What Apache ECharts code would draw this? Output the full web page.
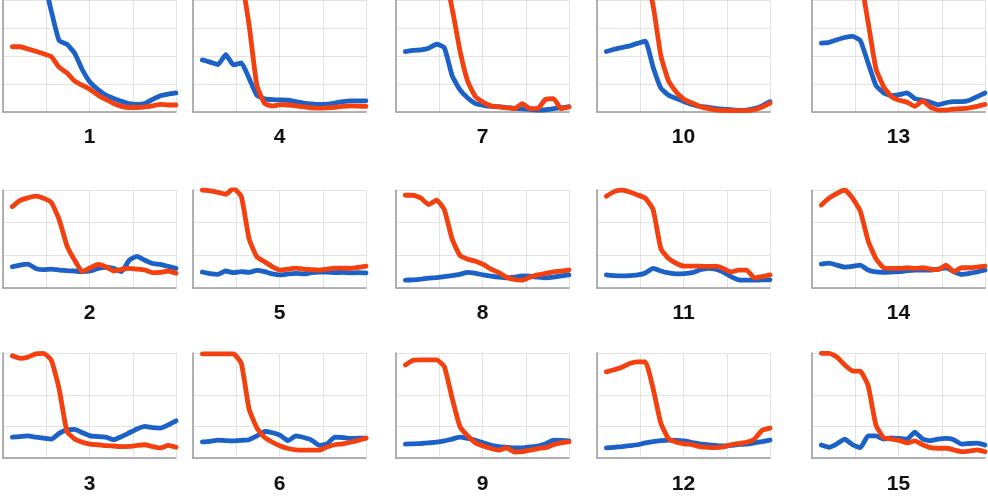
<!DOCTYPE html>
<html>
<head>
<meta charset="utf-8">
<script src="https://cdn.jsdelivr.net/npm/echarts@6/dist/echarts.min.js"></script>
<style>
  html, body { margin: 0; padding: 0; background: #fff; }
  #chart { width: 988px; height: 497px; }
</style>
</head>
<body>
<div id="chart"></div>
<script>
// sample index along each small chart
var steps = [0, 1, 2, 3, 4, 5, 6, 7, 8, 9, 10, 11, 12, 13, 14, 15, 16, 17, 18, 19, 20, 21];
var panelNames = ['1', '2', '3', '4', '5', '6', '7', '8', '9', '10', '11', '12', '13', '14', '15'];

// values in grid-line units (0 = bottom axis)
var blue1 = [4.8, 4.8, 4.7, 4.6, 4.6, 3.6, 2.55, 2.42, 2.1, 1.5, 1.05, 0.8, 0.6, 0.48, 0.38, 0.3, 0.27, 0.3, 0.45, 0.58, 0.64, 0.68];
var red1 = [2.33, 2.33, 2.25, 2.17, 2.08, 1.98, 1.6, 1.4, 1.1, 0.95, 0.8, 0.6, 0.45, 0.3, 0.2, 0.16, 0.16, 0.18, 0.22, 0.27, 0.25, 0.25];
var blue2 = [0.65, 0.7, 0.73, 0.6, 0.56, 0.58, 0.55, 0.53, 0.52, 0.5, 0.52, 0.6, 0.63, 0.6, 0.5, 0.85, 0.97, 0.85, 0.75, 0.72, 0.66, 0.6];
var red2 = [2.49, 2.68, 2.76, 2.81, 2.75, 2.62, 2.1, 1.3, 0.85, 0.5, 0.62, 0.72, 0.65, 0.52, 0.57, 0.6, 0.58, 0.55, 0.47, 0.48, 0.52, 0.45];
var blue3 = [0.66, 0.68, 0.7, 0.66, 0.63, 0.6, 0.78, 0.89, 0.91, 0.8, 0.7, 0.68, 0.66, 0.58, 0.68, 0.8, 0.92, 1.0, 0.96, 0.95, 1.05, 1.18];
var red3 = [3.24, 3.16, 3.2, 3.3, 3.32, 3.1, 2.2, 0.85, 0.6, 0.5, 0.44, 0.42, 0.39, 0.38, 0.36, 0.37, 0.4, 0.42, 0.36, 0.32, 0.4, 0.34];
var blue4 = [1.86, 1.78, 1.69, 2.05, 1.68, 1.75, 1.2, 0.6, 0.47, 0.44, 0.43, 0.42, 0.37, 0.32, 0.29, 0.27, 0.28, 0.32, 0.37, 0.4, 0.4, 0.4];
var red4 = [4.8, 4.8, 4.8, 4.8, 4.8, 4.7, 3.1, 0.95, 0.3, 0.22, 0.26, 0.25, 0.22, 0.18, 0.15, 0.14, 0.15, 0.17, 0.2, 0.22, 0.21, 0.2];
var blue5 = [0.49, 0.44, 0.42, 0.52, 0.47, 0.5, 0.48, 0.54, 0.5, 0.43, 0.4, 0.43, 0.45, 0.43, 0.47, 0.49, 0.49, 0.47, 0.48, 0.46, 0.47, 0.46];
var red5 = [3.0, 2.97, 2.93, 2.87, 3.05, 2.8, 1.5, 0.95, 0.8, 0.65, 0.55, 0.58, 0.61, 0.58, 0.56, 0.55, 0.58, 0.61, 0.61, 0.6, 0.63, 0.67];
var blue6 = [0.51, 0.53, 0.57, 0.55, 0.54, 0.56, 0.58, 0.7, 0.84, 0.8, 0.72, 0.55, 0.7, 0.65, 0.57, 0.4, 0.45, 0.66, 0.65, 0.62, 0.63, 0.63];
var red6 = [3.3, 3.3, 3.3, 3.3, 3.3, 3.0, 1.55, 0.95, 0.65, 0.5, 0.38, 0.3, 0.26, 0.25, 0.25, 0.25, 0.35, 0.42, 0.45, 0.5, 0.56, 0.63];
var blue7 = [2.16, 2.2, 2.22, 2.28, 2.42, 2.3, 1.3, 0.8, 0.5, 0.3, 0.24, 0.2, 0.19, 0.16, 0.13, 0.11, 0.09, 0.07, 0.08, 0.12, 0.15, 0.19];
var red7 = [4.8, 4.8, 4.8, 4.8, 4.8, 4.8, 3.7, 2.2, 1.1, 0.55, 0.35, 0.22, 0.18, 0.15, 0.12, 0.3, 0.12, 0.13, 0.45, 0.48, 0.12, 0.18];
var blue8 = [0.24, 0.25, 0.27, 0.3, 0.32, 0.35, 0.38, 0.42, 0.48, 0.45, 0.4, 0.36, 0.33, 0.31, 0.33, 0.37, 0.36, 0.33, 0.31, 0.33, 0.37, 0.4];
var red8 = [2.84, 2.84, 2.75, 2.55, 2.69, 2.4, 1.5, 1.0, 0.88, 0.82, 0.72, 0.58, 0.47, 0.33, 0.26, 0.24, 0.33, 0.4, 0.45, 0.49, 0.52, 0.55];
var blue9 = [0.44, 0.45, 0.46, 0.48, 0.5, 0.54, 0.6, 0.66, 0.62, 0.56, 0.48, 0.4, 0.36, 0.34, 0.32, 0.32, 0.35, 0.38, 0.45, 0.57, 0.56, 0.54];
var red9 = [2.95, 3.1, 3.11, 3.11, 3.11, 2.9, 1.9, 1.0, 0.7, 0.48, 0.38, 0.3, 0.25, 0.32, 0.19, 0.2, 0.25, 0.3, 0.33, 0.42, 0.48, 0.51];
var blue10 = [2.16, 2.24, 2.3, 2.36, 2.45, 2.53, 1.6, 0.85, 0.6, 0.48, 0.37, 0.27, 0.2, 0.17, 0.13, 0.1, 0.08, 0.06, 0.07, 0.12, 0.22, 0.37];
var red10 = [4.8, 4.8, 4.8, 4.8, 4.8, 4.8, 3.8, 2.0, 1.1, 0.7, 0.45, 0.32, 0.2, 0.13, 0.08, 0.06, 0.05, 0.05, 0.05, 0.08, 0.18, 0.32];
var blue11 = [0.4, 0.38, 0.37, 0.38, 0.4, 0.46, 0.6, 0.52, 0.46, 0.43, 0.44, 0.47, 0.55, 0.6, 0.58, 0.49, 0.35, 0.25, 0.24, 0.24, 0.25, 0.25];
var red11 = [2.81, 2.95, 3.0, 2.94, 2.85, 2.75, 2.4, 1.2, 0.9, 0.75, 0.67, 0.67, 0.67, 0.66, 0.67, 0.6, 0.49, 0.55, 0.55, 0.31, 0.35, 0.4];
var blue12 = [0.32, 0.34, 0.36, 0.39, 0.42, 0.48, 0.52, 0.55, 0.57, 0.56, 0.54, 0.49, 0.45, 0.42, 0.4, 0.38, 0.4, 0.43, 0.44, 0.48, 0.52, 0.57];
var red12 = [2.73, 2.8, 2.88, 3.0, 3.05, 3.05, 2.2, 1.1, 0.6, 0.5, 0.45, 0.42, 0.36, 0.34, 0.33, 0.35, 0.42, 0.46, 0.5, 0.6, 0.88, 0.95];
var blue13 = [2.46, 2.49, 2.58, 2.66, 2.7, 2.55, 1.75, 0.95, 0.68, 0.58, 0.62, 0.68, 0.48, 0.42, 0.35, 0.26, 0.33, 0.37, 0.37, 0.42, 0.55, 0.68];
var red13 = [4.8, 4.8, 4.8, 4.8, 4.8, 4.7, 3.2, 1.55, 0.9, 0.55, 0.42, 0.35, 0.2, 0.4, 0.17, 0.07, 0.07, 0.1, 0.12, 0.15, 0.2, 0.27];
var blue14 = [0.73, 0.76, 0.7, 0.64, 0.66, 0.7, 0.55, 0.49, 0.48, 0.49, 0.5, 0.53, 0.55, 0.55, 0.55, 0.58, 0.62, 0.5, 0.42, 0.45, 0.49, 0.55];
var red14 = [2.54, 2.75, 2.9, 3.0, 2.75, 2.35, 1.45, 0.9, 0.62, 0.6, 0.6, 0.62, 0.6, 0.62, 0.58, 0.56, 0.7, 0.5, 0.62, 0.62, 0.64, 0.67];
var blue15 = [0.41, 0.34, 0.45, 0.6, 0.42, 0.33, 0.7, 0.7, 0.6, 0.64, 0.62, 0.6, 0.82, 0.6, 0.55, 0.6, 0.62, 0.58, 0.44, 0.46, 0.47, 0.41];
var red15 = [3.32, 3.32, 3.2, 2.95, 2.76, 2.75, 2.3, 1.05, 0.64, 0.6, 0.56, 0.48, 0.54, 0.42, 0.33, 0.31, 0.31, 0.26, 0.2, 0.22, 0.26, 0.2];

var blueSets = [blue1, blue2, blue3, blue4, blue5, blue6, blue7, blue8, blue9, blue10, blue11, blue12, blue13, blue14, blue15];
var redSets = [red1, red2, red3, red4, red5, red6, red7, red8, red9, red10, red11, red12, red13, red14, red15];

var colLeft = [3, 193, 396, 597, 812];
var panelWidth = 173;
var rowTop = [-18, 190, 353];
var rowHeight = [130, 98, 105];
var rowMax = [4, 3, 3.33];
var titleTop = [127, 303, 474];

var gridColor = '#e3e3e3';
var axisColor = '#9a9a9a';

var grids = [], xAxes = [], yAxes = [], series = [], titles = [];

function pairs(values) {
    return values.map(function (v, i) { return [steps[i], v]; });
}

for (var p = 0; p < 15; p++) {
    var col = Math.floor(p / 3);
    var row = p % 3;
    grids.push({ left: colLeft[col], top: rowTop[row], width: panelWidth, height: rowHeight[row] });

    // visible axis: only grid lines
    xAxes.push({
        gridIndex: p, type: 'value', min: 0, max: 4, interval: 1,
        axisLine: { show: true, onZero: false, lineStyle: { color: axisColor, width: 1.5 } },
        axisTick: { show: false }, axisLabel: { show: false },
        splitLine: { show: true, lineStyle: { color: gridColor, width: 1 } }
    });
    // hidden axis the data is drawn on
    xAxes.push({ gridIndex: p, type: 'value', min: -1.2, max: 21, show: false });

    var splitColors = row === 2
        ? [gridColor, gridColor, gridColor, 'rgba(0,0,0,0)', gridColor]
        : gridColor;
    yAxes.push({
        gridIndex: p, type: 'value', min: 0, max: rowMax[row], interval: 1,
        axisLine: { show: true, lineStyle: { color: axisColor, width: 1.5 } },
        axisTick: { show: false }, axisLabel: { show: false },
        splitLine: { show: true, lineStyle: { color: splitColors, width: 1 } }
    });

    series.push({
        type: 'line', xAxisIndex: p * 2 + 1, yAxisIndex: p,
        data: pairs(blueSets[p]), symbol: 'none', smooth: 0.15,
        lineStyle: { color: '#1b61c6', width: 4.8, join: 'round', cap: 'round' },
        silent: true, animation: false
    });
    series.push({
        type: 'line', xAxisIndex: p * 2 + 1, yAxisIndex: p,
        data: pairs(redSets[p]), symbol: 'none', smooth: 0.15,
        lineStyle: { color: '#f4400f', width: 4.8, join: 'round', cap: 'round' },
        silent: true, animation: false
    });

    titles.push({
        text: panelNames[p],
        left: colLeft[col] + panelWidth / 2, top: titleTop[row],
        textAlign: 'center', padding: 0,
        textStyle: { fontSize: 21, fontWeight: 'bold', color: '#111', fontFamily: 'Liberation Sans, Arial, sans-serif' }
    });
}

var chart = echarts.init(document.getElementById('chart'));
chart.setOption({
    animation: false,
    title: titles,
    grid: grids,
    xAxis: xAxes,
    yAxis: yAxes,
    series: series
});
</script>
</body>
</html>
